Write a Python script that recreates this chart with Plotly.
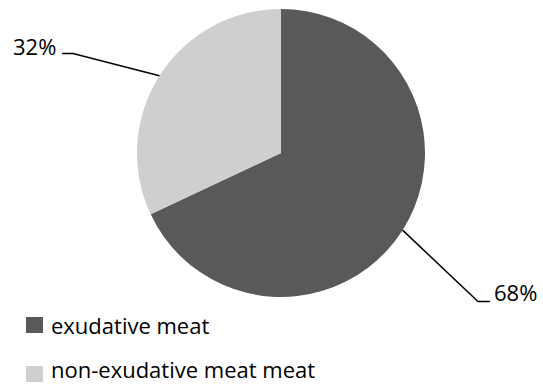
import math
import plotly.graph_objects as go

# ---- data ----
labels = ["exudative meat", "non-exudative meat meat"]
values = [68, 32]
colors = ["#595959", "#d0cfd0"]
pct_text = ["68%", "32%"]

# ---- layout constants (pixels) ----
W, H = 543, 385
CX, CY, R = 281, 153, 144
FONT = "Open Sans"
FS = 22

# label placement per slice: elbow of leader, end of leader, text anchor
label_layout = [
    dict(elbow=(478, 301.5), end=(490, 301.5), text=(492, 292), xanchor="left"),
    dict(elbow=(73, 53.5), end=(62, 53.5), text=(58, 46), xanchor="right"),
]
legend_x_box = (26, 43)
legend_rows_y = [325, 374]
legend_box_h = 16
legend_text_x = 50


def px(x):
    return x / W


def py(y):
    return 1 - y / H


fig = go.Figure()
fig.add_trace(go.Pie(
    labels=labels, values=values, sort=False, direction="clockwise", rotation=0,
    marker=dict(colors=colors, line=dict(width=0)),
    textinfo="none", hoverinfo="label+percent", showlegend=False,
    domain=dict(x=[px(CX - R), px(CX + R)], y=[py(CY + R), py(CY - R)]),
))

shapes = []
annotations = []
total = sum(values)
cum = 0
for i, v in enumerate(values):
    mid = (cum + v / 2) / total * 2 * math.pi
    cum += v
    ex = CX + R * math.sin(mid)
    ey = CY - R * math.cos(mid)
    L = label_layout[i]
    path = "M {} {} L {} {} L {} {}".format(
        px(ex), py(ey), px(L["elbow"][0]), py(L["elbow"][1]), px(L["end"][0]), py(L["end"][1]))
    shapes.append(dict(type="path", xref="paper", yref="paper", path=path,
                       line=dict(color="black", width=1.5)))
    annotations.append(dict(xref="paper", yref="paper", x=px(L["text"][0]), y=py(L["text"][1]),
                            text=pct_text[i], showarrow=False, xanchor=L["xanchor"], yanchor="middle",
                            font=dict(family=FONT, size=FS, color="black")))

for i, lab in enumerate(labels):
    yc = legend_rows_y[i]
    shapes.append(dict(type="rect", xref="paper", yref="paper",
                       x0=px(legend_x_box[0]), x1=px(legend_x_box[1]),
                       y0=py(yc + legend_box_h / 2), y1=py(yc - legend_box_h / 2),
                       fillcolor=colors[i], line=dict(width=0)))
    last = i == len(labels) - 1
    annotations.append(dict(xref="paper", yref="paper", x=px(legend_text_x),
                            y=0 if last else py(yc),
                            text=lab, showarrow=False, xanchor="left",
                            yanchor="bottom" if last else "middle", borderpad=0,
                            font=dict(family=FONT, size=FS, color="black")))

fig.update_layout(
    width=W, height=H, margin=dict(l=0, r=0, t=0, b=0),
    paper_bgcolor="white", plot_bgcolor="white",
    shapes=shapes, annotations=annotations, showlegend=False,
)
fig.write_html("out.html")
